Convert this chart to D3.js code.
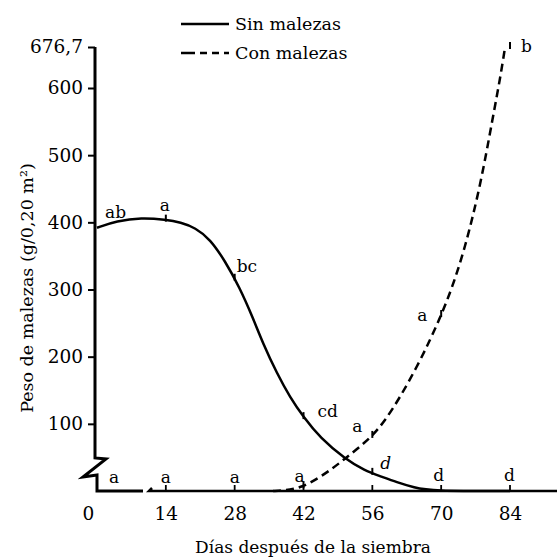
<!DOCTYPE html>
<html>
<head>
<meta charset="utf-8">
<script src="https://cdn.jsdelivr.net/npm/d3@7"></script>
<style>
  html, body { margin: 0; padding: 0; background: #fff; }
  svg { display: block; }
  text { font-family: "DejaVu Serif", "Liberation Serif", serif; fill: #000; }
  .tick-lab { font-size: 18.5px; }
  .letra { font-size: 17px; }
</style>
</head>
<body>
<svg id="grafico" width="557" height="559"></svg>
<script>
// ================= DATOS =================
const dias = [0, 14, 28, 42, 56, 70, 84];

// valores observados (marcas sobre las curvas)
const sinMalezas = [392, 404, 316, 110, 27, 0, 0];
const conMalezas = [0, 0, 0, 7, 82, 262, 676.7];

// letras de significancia
const letrasSin = ["ab", "a", "bc", "cd", "d", "d", "d"];
const letrasCon = ["a", "a", "a", "a", "a", "a", "b"];

// curvas ajustadas [dia, peso]
const curvaSin = [
  [0, 392], [4, 402], [9, 407], [14, 404], [17, 400], [20, 392], [23, 375],
  [26, 343], [29, 303], [31.7, 258], [33.8, 219], [36.6, 175],
  [39.3, 139], [42, 110], [45.4, 79], [50.4, 48], [54.5, 30], [57.6, 22],
  [61, 13], [64.5, 5], [68, 0], [84, 0]
];
const curvaCon = [
  [35.8, 0], [38, 1], [40, 3], [42, 7], [45, 19], [48, 34], [50.4, 48], [53, 63],
  [56, 82], [58.5, 104], [61.6, 139], [65, 184], [67.7, 224], [70, 262], [72, 298],
  [74.8, 360], [78, 455], [80.6, 560], [82, 618], [83, 676.7]
];

const yTicks = [100, 200, 300, 400, 500, 600, 676.7];
const yTickLabels = ["100", "200", "300", "400", "500", "600", "676,7"];
const leyenda = ["Sin malezas", "Con malezas"];
const tituloX = "Días después de la siembra";
const tituloY = "Peso de malezas (g/0,20 m²)";

// ================= ESCALAS =================
const svg = d3.select("#grafico");
const x = d3.scaleLinear().domain([0, 84]).range([97, 510]);
// el tramo superior del eje esta comprimido
const y = d3.scaleLinear().domain([0, 600, 676.7]).range([491, 88, 47]);

// ================= EJES =================
const ejeY = svg.append("g").attr("transform", `translate(95,0)`)
  .call(d3.axisLeft(y).tickValues(yTicks).tickSize(7).tickPadding(5)
    .tickFormat((d, i) => yTickLabels[i]));
ejeY.select(".domain").remove();
ejeY.selectAll(".tick line").attr("stroke", "#000").attr("stroke-width", 2);
ejeY.selectAll(".tick text").attr("class", "tick-lab").attr("font-family", null).attr("font-size", null);

// linea vertical con quiebre
svg.append("path")
  .attr("d", `M95,${y(676.7)} L95,458 L106,459 L83,477 L97,475 L97,491 L143,491`)
  .attr("fill", "none").attr("stroke", "#000").attr("stroke-width", 3)
  .attr("stroke-linejoin", "miter");

// eje x despues del quiebre
svg.append("path")
  .attr("d", "M152,488 L149,491 L557,491")
  .attr("fill", "none").attr("stroke", "#000").attr("stroke-width", 2.5);

const ejeX = svg.append("g").attr("transform", `translate(0,491)`)
  .call(d3.axisBottom(x).tickValues(dias).tickSize(0).tickPadding(16));
ejeX.select(".domain").remove();
ejeX.selectAll(".tick text").attr("class", "tick-lab").attr("font-family", null).attr("font-size", null);
ejeX.selectAll(".tick text").filter(d => d === 0).attr("dx", -9);

// marquitas hacia arriba en el eje x
svg.selectAll(".xmark")
  .data(dias.filter(d => d > 0))
  .enter().append("line")
  .attr("x1", d => x(d)).attr("x2", d => x(d))
  .attr("y1", 491).attr("y2", 485)
  .attr("stroke", "#000").attr("stroke-width", 1.8);

// ================= CURVAS =================
const linea = d3.line()
  .x(d => x(d[0])).y(d => y(d[1]))
  .curve(d3.curveBasis);

svg.append("path").datum(curvaSin)
  .attr("d", linea).attr("fill", "none")
  .attr("stroke", "#000").attr("stroke-width", 2.5);

svg.append("path").datum(curvaCon)
  .attr("d", linea).attr("fill", "none")
  .attr("stroke", "#000").attr("stroke-width", 2.5)
  .attr("stroke-dasharray", "8,5");

// marcas de los puntos observados
function marcas(valores, desde) {
  svg.selectAll(null)
    .data(dias.map((d, i) => [d, valores[i]]).filter((p, i) => i >= desde && p[1] > 0))
    .enter().append("line")
    .attr("x1", d => x(d[0])).attr("x2", d => x(d[0]))
    .attr("y1", d => y(d[1]) - 5).attr("y2", d => y(d[1]) + 2)
    .attr("stroke", "#000").attr("stroke-width", 2);
}
marcas(sinMalezas, 1);
marcas(conMalezas, 3);

// ================= LETRAS =================
// desplazamiento de cada letra respecto a su punto
const despSin = [[8, -10], [-6, -9], [2, -7], [14, 0], [8, -4], [-8, -10], [-6, -10]];
const despCon = [[12, -8], [-5, -8], [-5, -8], [-9, -4], [-20, -4], [-24, 6], [11, 5]];

function letras(valores, textos, desp, italicaEn) {
  svg.selectAll(null)
    .data(dias)
    .enter().append("text")
    .attr("class", "letra")
    .attr("x", (d, i) => x(d) + desp[i][0])
    .attr("y", (d, i) => y(valores[i]) + desp[i][1])
    .attr("font-style", (d, i) => i === italicaEn ? "italic" : null)
    .text((d, i) => textos[i]);
}
letras(sinMalezas, letrasSin, despSin, 4);
letras(conMalezas, letrasCon, despCon, -1);

// ================= LEYENDA =================
const ley = svg.append("g");
ley.append("line").attr("x1", 181).attr("x2", 229).attr("y1", 24).attr("y2", 24)
  .attr("stroke", "#000").attr("stroke-width", 2.5);
ley.append("line").attr("x1", 181).attr("x2", 229).attr("y1", 53).attr("y2", 53)
  .attr("stroke", "#000").attr("stroke-width", 2.5).attr("stroke-dasharray", "14,5,7,5,7,5");
ley.selectAll("text").data(leyenda).enter().append("text")
  .attr("x", 235).attr("y", (d, i) => 30 + i * 29)
  .attr("font-size", 17.5)
  .text(d => d);

// ================= TITULOS =================
svg.append("text")
  .attr("x", 313).attr("y", 553)
  .attr("text-anchor", "middle").attr("font-size", 17)
  .text(tituloX);

svg.append("text")
  .attr("transform", "translate(33,288) rotate(-90)")
  .attr("text-anchor", "middle").attr("font-size", 17.5)
  .text(tituloY);
</script>
</body>
</html>
